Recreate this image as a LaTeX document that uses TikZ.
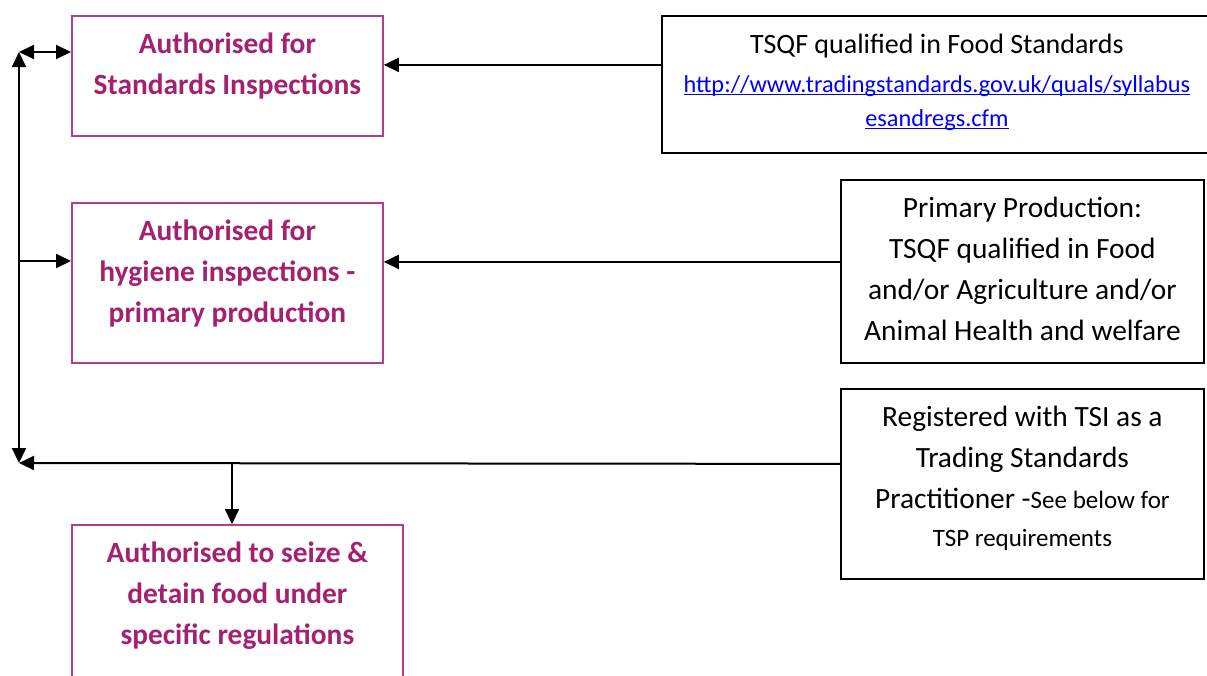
\documentclass[tikz,border=0pt]{standalone}
\usepackage{fontspec}
\setmainfont{Carlito}
\usetikzlibrary{arrows.meta}
\definecolor{textpink}{RGB}{163,33,111}
\definecolor{boxpink}{RGB}{180,60,140}
\definecolor{linkblue}{RGB}{0,0,255}
% box of fixed size, text set from the top
\newcommand{\boxlines}[3]{\parbox[c][#1][t]{#2}{\vspace*{9.3pt}\centering\strut #3\par}}
\newcommand{\smalltext}{\fontsize{25}{38}\selectfont}
\newcommand{\linkfont}{\fontsize{24.3}{34}\selectfont\color{linkblue}}
\newsavebox{\linkbox}
\newcommand{\linkline}[1]{\leavevmode\sbox{\linkbox}{#1}\rlap{\rule[-2.5pt]{\wd\linkbox}{1.2pt}}\usebox{\linkbox}}

\begin{document}
\begin{tikzpicture}[x=1pt,y=-1pt,>={Triangle[length=15pt,width=14pt]},line width=2pt,
  auth box/.style={draw=boxpink,line width=1.8pt,text=textpink,anchor=north west,
    inner sep=0pt,font=\bfseries\fontsize{29.4}{41}\selectfont},
  req box/.style={draw=black,line width=1.8pt,anchor=north west,
    inner sep=0pt,font=\fontsize{29.4}{41}\selectfont}]

  \useasboundingbox (0,0) rectangle (1207,675);
  \clip (0,0) rectangle (1207,675);

  % authorisations
  \node[auth box] (std) at (71,15) {\boxlines{120pt}{311pt}{Authorised for\\Standards Inspections}};
  \node[auth box] (hyg) at (71,202) {\boxlines{160pt}{311pt}{Authorised for\\hygiene inspections -\\primary production}};
  \node[auth box] (seize) at (71,524) {\boxlines{170pt}{331pt}{Authorised to seize \&\\detain food under\\specific regulations}};

  % requirements
  \node[req box] (tsqf) at (661,15) {\boxlines{137pt}{550pt}{\fontsize{28}{41}\selectfont TSQF qualified in Food Standards\par\vspace{5pt}
    {\linkfont\linkline{http://www.tradingstandards.gov.uk/quals/syllabus}\\\linkline{esandregs.cfm}\par}}};
  \node[req box] (primary) at (840,179) {\boxlines{183pt}{363pt}{Primary Production:\\TSQF qualified in Food\\and/or Agriculture and/or\\Animal Health and welfare}};
  \node[req box] (tsp) at (840,388) {\boxlines{190pt}{363pt}{Registered with TSI as a\\Trading Standards\\Practitioner -{\smalltext See below for}\\[-3pt]{\smalltext TSP requirements}}};

  \coordinate (top left) at (19,52);
  \coordinate (mid left) at (19,261);
  \coordinate (low left) at (19,463);
  \coordinate (split) at (232,463);

  \draw[<->] (top left) -- (low left);
  \draw[<->] (top left) -- (top left -| std.west);
  \draw[->] (mid left) -- (mid left -| hyg.west);
  \draw[->] ([yshift=19.5pt]tsqf.west) -- ([yshift=19.5pt]tsqf.west -| std.east);
  \draw[->] ([yshift=9.5pt]primary.west) -- ([yshift=9.5pt]primary.west -| hyg.east);
  \draw[->] ([yshift=20pt]tsp.west) -- (low left);
  \draw[->] (split) -- (split |- seize.north);
\end{tikzpicture}
\end{document}
